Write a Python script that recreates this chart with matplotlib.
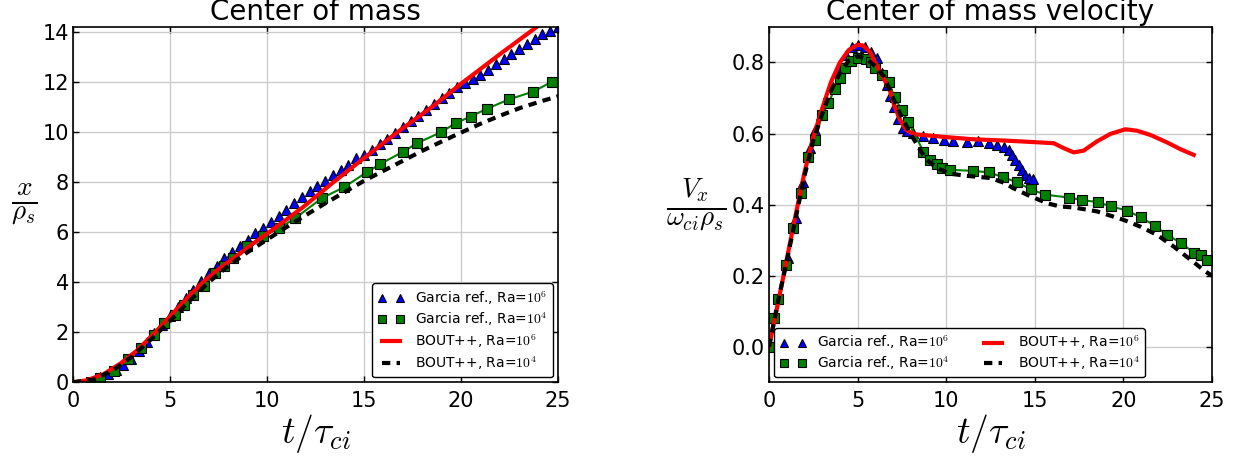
import matplotlib
matplotlib.use("Agg")
import matplotlib.pyplot as plt

# ---- left panel: centre of mass position, x / rho_s
t_gar6_pos = [1.4, 1.8, 2.2, 2.6, 3.0, 3.4, 3.8, 4.2, 4.6, 5.0, 5.4, 5.8, 6.2, 6.6,
              7.0, 7.4, 7.8, 8.2, 8.6, 9.0, 9.4, 9.8, 10.2, 10.6, 11.0, 11.4, 11.8,
              12.2, 12.6, 13.0, 13.4, 13.8, 14.2, 14.6, 15.0, 15.4, 15.8, 16.2, 16.6,
              17.0, 17.4, 17.8, 18.2, 18.6, 19.0, 19.4, 19.8, 20.2, 20.6, 21.0, 21.4,
              21.8, 22.2, 22.6, 23.0, 23.4, 23.8, 24.2, 24.6, 25.0]
x_gar6 = [0.2, 0.33, 0.5, 0.7, 0.95, 1.25, 1.6, 1.95, 2.3, 2.65, 3.0, 3.35, 3.7, 4.05,
          4.35, 4.65, 4.95, 5.2, 5.45, 5.7, 5.95, 6.15, 6.4, 6.65, 6.9, 7.15, 7.4,
          7.65, 7.85, 8.05, 8.3, 8.5, 8.7, 8.95, 9.1, 9.3, 9.52, 9.74, 9.96, 10.2,
          10.43, 10.66, 10.9, 11.13, 11.36, 11.58, 11.8, 11.95, 12.12, 12.3, 12.48,
          12.7, 12.9, 13.1, 13.3, 13.5, 13.7, 13.9, 14.05, 14.2]

t_gar4_pos = [0.95, 1.39, 2.09, 2.83, 3.51, 4.16, 4.71, 5.27, 5.73, 6.19, 6.75, 7.30,
              7.76, 8.23, 8.96, 9.80, 10.63, 11.46, 12.83, 13.98, 15.15, 15.83, 17.03,
              17.75, 18.98, 19.73, 20.50, 21.33, 22.49, 23.73, 24.71]
x_gar4 = [0.03, 0.19, 0.47, 0.93, 1.36, 1.89, 2.36, 2.69, 3.09, 3.49, 3.83, 4.36,
          4.63, 4.96, 5.43, 5.83, 6.16, 6.56, 7.36, 7.80, 8.40, 8.72, 9.22,
          9.56, 10.0, 10.36, 10.62, 10.93, 11.31, 11.62, 12.02]

t_bout6_pos = [0, 0.73, 1.59, 2.45, 3.3, 4.16, 5.0, 5.88, 6.74, 7.6, 8.45, 9.31, 10.17,
               11.03, 11.89, 13.43, 15.15, 16.7, 18.58, 20.0, 22.02, 23.9, 24.4]
x_bout6 = [0, 0.08, 0.33, 0.75, 1.27, 1.93, 2.63, 3.36, 4.03, 4.58, 5.05, 5.56, 6.03,
           6.52, 7.02, 8.0, 9.05, 9.98, 11.05, 11.93, 13.12, 14.2, 14.5]

t_bout4_pos = [0, 1, 2, 3, 4, 5, 6, 7, 8, 9, 10, 11, 12, 13, 14, 15, 16, 17, 18, 19,
               20, 21, 22, 23, 24, 25]
x_bout4 = [0, 0.1, 0.45, 1.0, 1.7, 2.45, 3.25, 4.0, 4.65, 5.2, 5.7, 6.2, 6.68, 7.15,
           7.6, 8.05, 8.45, 8.85, 9.25, 9.62, 9.98, 10.33, 10.65, 10.95, 11.2, 11.43]

# ---- right panel: centre of mass velocity, V_x / (omega_ci rho_s)
t_gar6_vel = [1.05, 1.5, 1.9, 2.3, 2.6, 2.95, 3.3, 3.6, 4.0, 4.35, 4.7, 5.05, 5.4, 5.75,
              6.1, 6.4, 6.65, 6.85, 7.05, 7.3, 7.55, 7.8, 8.15, 8.72, 9.28, 9.85, 10.41,
              11.17, 11.82, 12.39, 12.86, 13.24, 13.52, 13.71, 13.90, 14.09, 14.28,
              14.46, 14.65, 14.90]
v_gar6 = [0.25, 0.362, 0.463, 0.56, 0.61, 0.653, 0.69, 0.73, 0.779, 0.822, 0.843, 0.85,
          0.845, 0.83, 0.812, 0.77, 0.737, 0.705, 0.676, 0.64, 0.615, 0.606, 0.601,
          0.594, 0.587, 0.582, 0.578, 0.575, 0.578, 0.573, 0.568, 0.563, 0.554, 0.540,
          0.526, 0.512, 0.498, 0.484, 0.475, 0.472]

t_gar4_vel = [0.0, 0.3, 0.5, 0.95, 1.37, 1.8, 2.2, 2.6, 3.0, 3.35, 3.7, 4.0, 4.3, 4.63,
              5.05, 5.45, 5.75, 6.0, 6.4, 6.75, 7.1, 7.5, 7.87, 8.72, 9.1, 9.47, 9.79,
              10.23, 11.5, 12.39, 13.18, 13.99, 14.78, 15.59, 16.91, 17.66, 18.55,
              19.32, 20.21, 21.0, 21.77, 22.47, 23.26, 23.97, 24.39, 24.73]
v_gar4 = [0.0, 0.08, 0.133, 0.231, 0.334, 0.433, 0.533, 0.583, 0.652, 0.685, 0.725,
          0.755, 0.784, 0.805, 0.812, 0.81, 0.80, 0.785, 0.765, 0.745, 0.702, 0.665,
          0.632, 0.549, 0.526, 0.515, 0.503, 0.498, 0.495, 0.491, 0.478, 0.463, 0.443,
          0.428, 0.420, 0.413, 0.407, 0.395, 0.383, 0.364, 0.341, 0.315, 0.292, 0.265,
          0.257, 0.245]

t_bout6_vel = [0.0, 0.5, 1.0, 1.5, 2.0, 2.5, 3.0, 3.5, 4.0, 4.5, 5.0, 5.3, 5.7, 6.2,
               6.8, 7.1, 7.4, 7.75, 8.2, 8.7, 10.0, 11.5, 13.4, 15.3, 16.06, 16.63,
               17.2, 17.76, 18.51, 19.27, 20.11, 20.77, 21.53, 22.47, 23.22, 23.97]
v_bout6 = [0.0, 0.12, 0.245, 0.37, 0.49, 0.59, 0.67, 0.745, 0.80, 0.835, 0.85, 0.848,
           0.83, 0.78, 0.725, 0.675, 0.638, 0.61, 0.598, 0.596, 0.590, 0.584, 0.580,
           0.575, 0.573, 0.559, 0.547, 0.552, 0.578, 0.599, 0.612, 0.608, 0.596,
           0.575, 0.556, 0.540]

t_bout4_vel = [0.0, 0.5, 1.0, 1.5, 2.0, 2.5, 3.0, 3.5, 4.0, 4.5, 5.0, 5.5, 6.0, 6.5,
               7.0, 7.5, 7.97, 8.53, 8.91, 9.47, 10.23, 11.17, 12.49, 13.24, 13.8,
               14.56, 15.69, 16.4, 17.2, 18.51, 20.02, 20.96, 21.9, 22.84, 23.79,
               24.63, 25.0]
v_bout4 = [0.0, 0.125, 0.24, 0.36, 0.48, 0.58, 0.655, 0.72, 0.77, 0.805, 0.818, 0.81,
           0.79, 0.76, 0.70, 0.645, 0.601, 0.554, 0.526, 0.503, 0.487, 0.481, 0.475,
           0.462, 0.446, 0.428, 0.404, 0.395, 0.392, 0.381, 0.357, 0.338, 0.315,
           0.282, 0.245, 0.212, 0.2]

labels = ["Garcia ref., Ra=$10^6$", "Garcia ref., Ra=$10^4$",
          "BOUT++, Ra=$10^6$", "BOUT++, Ra=$10^4$"]

plt.rcParams.update({"mathtext.fontset": "cm", "font.size": 15,
                     "axes.linewidth": 1.2, "grid.color": "#cccccc",
                     "grid.linewidth": 1.0})

fig = plt.figure(figsize=(12.52, 4.57), dpi=100)
ax1 = fig.add_axes([0.0583, 0.1635, 0.3874, 0.7775])
ax2 = fig.add_axes([0.6142, 0.1635, 0.3538, 0.7775])


def draw(ax, tb, b, tg, g, tr, r, tk, k):
    ax.plot(tb, b, ls="none", marker="^", ms=7, mfc="blue", mec="black", mew=0.8,
            label=labels[0])
    ax.plot(tg, g, color="green", lw=1.5, zorder=2)
    ax.plot(tg, g, ls="none", marker="s", ms=7.5, mfc="green", mec="black", mew=0.8,
            label=labels[1], zorder=2.1)
    ax.plot(tr, r, color="red", lw=3, label=labels[2], zorder=2.2)
    ax.plot(tk, k, color="black", lw=3, ls=(0, (2, 1.5)), label=labels[3], zorder=2.3)
    ax.grid(True)
    ax.set_axisbelow(True)
    ax.tick_params(direction="in", top=True, right=True, length=4, width=1,
                   labelsize=15)
    ax.tick_params(axis="x", pad=6)
    ax.tick_params(axis="y", pad=3)
    ax.set_xlim(0, 25)
    ax.set_xticks([0, 5, 10, 15, 20, 25])
    ax.set_xlabel(r"$t/\tau_{ci}$", fontsize=27, labelpad=1)


draw(ax1, t_gar6_pos, x_gar6, t_gar4_pos, x_gar4, t_bout6_pos, x_bout6,
     t_bout4_pos, x_bout4)
ax1.set_ylim(0, 14.2)
ax1.set_yticks(range(0, 15, 2))
ax1.set_title("Center of mass", fontsize=20, pad=5)
ax1.set_ylabel(r"$\frac{x}{\rho_s}$", fontsize=28, rotation=0, va="center",
               ha="center")
ax1.yaxis.set_label_coords(-0.1, 0.5)
ax1.legend(loc="lower right", numpoints=2, fontsize=10, fancybox=True,
           edgecolor="black", framealpha=1, borderaxespad=0.35, handlelength=1.9,
           handletextpad=0.8, labelspacing=0.3, markerscale=0.75)

draw(ax2, t_gar6_vel, v_gar6, t_gar4_vel, v_gar4, t_bout6_vel, v_bout6,
     t_bout4_vel, v_bout4)
ax2.set_ylim(-0.1, 0.9)
ax2.set_yticks([0.0, 0.2, 0.4, 0.6, 0.8])
ax2.set_title("Center of mass velocity", fontsize=20, pad=5)
ax2.set_ylabel(r"$\frac{V_x}{\omega_{ci}\rho_s}$", fontsize=28, rotation=0,
               va="center", ha="center")
ax2.yaxis.set_label_coords(-0.165, 0.5)
ax2.legend(loc="lower left", ncol=2, numpoints=2, fontsize=10, fancybox=True,
           edgecolor="black", framealpha=1, borderaxespad=0.35, handlelength=1.9,
           handletextpad=0.8, labelspacing=0.2, columnspacing=2.2, markerscale=0.75)

fig.savefig("out.png", dpi=100)
